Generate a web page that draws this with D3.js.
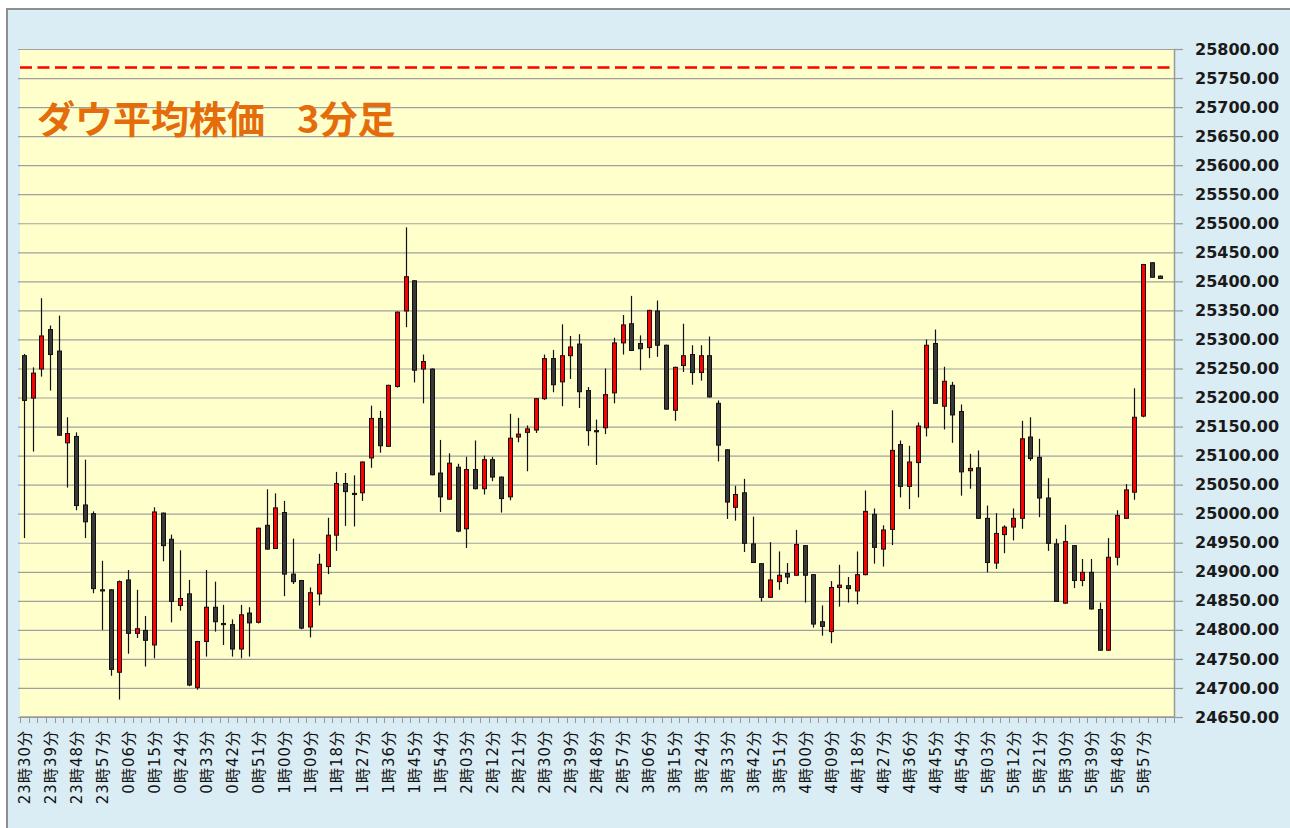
<!DOCTYPE html>
<html>
<head>
<meta charset="utf-8">
<script src="https://cdn.jsdelivr.net/npm/d3@7"></script>
<style>
  html, body { margin: 0; padding: 0; background: #fff; }
  svg { display: block; }
</style>
</head>
<body>
<svg id="chart" width="1290" height="828"></svg>
<script>
// ------------------
// Data (3-minute bars)
// ------------------
const times = [
  "23時30分","23時33分","23時36分","23時39分","23時42分","23時45分","23時48分","23時51分","23時54分","23時57分",
  "0時00分","0時03分","0時06分","0時09分","0時12分","0時15分","0時18分","0時21分","0時24分","0時27分",
  "0時30分","0時33分","0時36分","0時39分","0時42分","0時45分","0時48分","0時51分","0時54分","0時57分",
  "1時00分","1時03分","1時06分","1時09分","1時12分","1時15分","1時18分","1時21分","1時24分","1時27分",
  "1時30分","1時33分","1時36分","1時39分","1時42分","1時45分","1時48分","1時51分","1時54分","1時57分",
  "2時00分","2時03分","2時06分","2時09分","2時12分","2時15分","2時18分","2時21分","2時24分","2時27分",
  "2時30分","2時33分","2時36分","2時39分","2時42分","2時45分","2時48分","2時51分","2時54分","2時57分",
  "3時00分","3時03分","3時06分","3時09分","3時12分","3時15分","3時18分","3時21分","3時24分","3時27分",
  "3時30分","3時33分","3時36分","3時39分","3時42分","3時45分","3時48分","3時51分","3時54分","3時57分",
  "4時00分","4時03分","4時06分","4時09分","4時12分","4時15分","4時18分","4時21分","4時24分","4時27分",
  "4時30分","4時33分","4時36分","4時39分","4時42分","4時45分","4時48分","4時51分","4時54分","4時57分",
  "5時00分","5時03分","5時06分","5時09分","5時12分","5時15分","5時18分","5時21分","5時24分","5時27分",
  "5時30分","5時33分","5時36分","5時39分","5時42分","5時45分","5時48分","5時51分","5時54分","5時57分",
  "6時00分","6時03分","6時06分"
];

const open = [
  25272,25199,25249,25317,25280,25122,25133,25015,25000,24869,
  24869,24727,24886,24794,24799,24774,25001,24956,24842,24862,
  24701,24780,24839,24811,24809,24767,24829,24813,24980,24940,
  25002,24896,24885,24805,24862,24909,24963,25052,25035,25036,
  25096,25164,25116,25219,25349,25401,25249,25249,25070,25025,
  25080,24974,25076,25043,25093,25063,25029,25132,25140,25144,
  25198,25267,25227,25272,25292,25212,25143,25148,25208,25294,
  25327,25293,25286,25349,25290,25178,25255,25274,25243,25272,
  25190,25110,25011,25036,24948,24914,24856,24883,24897,24894,
  24945,24895,24814,24797,24873,24876,24867,24895,24999,24939,
  24973,25119,25047,25088,25148,25293,25185,25221,25176,25074,
  25079,24992,24915,24964,24977,24992,25132,25097,25027,24948,
  24846,24945,24885,24899,24835,24765,24925,24992,25037,25168,
  25432,25409
];
const high = [
  25275,25252,25371,25324,25341,25166,25140,25093,25004,24919,
  24870,24885,24903,24869,24824,25011,25002,24964,24937,24886,
  24781,24903,24883,24843,24818,24843,24839,24976,25042,25035,
  25022,24957,24886,24873,24931,24993,25072,25070,25066,25090,
  25186,25177,25222,25348,25493,25402,25274,25250,25127,25104,
  25086,25098,25126,25100,25098,25064,25172,25165,25152,25199,
  25274,25282,25326,25306,25309,25218,25162,25250,25303,25342,
  25375,25307,25351,25367,25291,25253,25327,25290,25290,25305,
  25195,25111,25048,25060,24995,24915,24951,24935,24915,24972,
  24946,24896,24842,24884,24912,24891,24935,25040,25009,24980,
  25178,25126,25117,25157,25300,25317,25253,25227,25188,25103,
  25109,25014,25001,24980,25009,25160,25166,25129,25061,24957,
  24981,24946,24922,24922,24847,24958,25006,25051,25216,25430,
  25433,25410
];
const low = [
  24958,25107,25236,25212,25135,25045,25006,24958,24863,24800,
  24721,24680,24759,24786,24737,24751,24918,24813,24833,24703,
  24697,24754,24797,24774,24754,24751,24754,24811,24938,24940,
  24858,24879,24801,24787,24842,24896,24936,24979,24978,25022,
  25079,25105,25115,25217,25321,25226,25190,25066,25003,25024,
  24968,24941,25042,25033,25056,25002,25023,25123,25073,25139,
  25196,25209,25185,25232,25182,25117,25084,25137,25190,25274,
  25280,25247,25268,25270,25179,25160,25244,25222,25229,25200,
  25090,24991,24988,24934,24915,24849,24855,24869,24879,24893,
  24847,24804,24790,24777,24840,24847,24844,24894,24914,24909,
  24946,25028,25008,25028,25133,25189,25145,25122,25031,25043,
  24991,24899,24905,24932,24954,24974,25091,24994,24936,24849,
  24845,24872,24875,24835,24764,24764,24911,24991,25024,25166,
  25407,25405
];
const close = [
  25195,25242,25306,25274,25135,25138,25014,24986,24871,24867,
  24732,24883,24794,24802,24782,25003,24945,24849,24854,24705,
  24780,24839,24814,24809,24767,24826,24812,24975,24939,25010,
  24896,24883,24803,24864,24913,24963,25052,25038,25033,25089,
  25164,25117,25221,25347,25408,25247,25262,25067,25029,25087,
  24970,25076,25043,25093,25063,25026,25130,25137,25146,25198,
  25267,25222,25272,25287,25210,25143,25141,25205,25294,25325,
  25281,25284,25350,25290,25180,25252,25272,25243,25272,25201,
  25118,25020,25033,24949,24916,24856,24886,24894,24891,24947,
  24894,24810,24806,24873,24877,24871,24895,25004,24942,24972,
  25109,25047,25089,25151,25290,25190,25228,25170,25072,25078,
  24992,24916,24966,24977,24992,25129,25095,25027,24949,24849,
  24952,24885,24899,24836,24765,24925,24997,25041,25166,25429,
  25407,25405
];

const yTicks = d3.range(24650, 25801, 50);
const refLevel = 25768;
const titleMain = "ダウ平均株価";
const titleSub = "3分足";

// ------------------
// Layout
// ------------------
const svg = d3.select("#chart");
const plotLeft = 20, plotRight = 1174, plotTop = 49, plotBottom = 717;

svg.append("rect")
  .attr("x", 7).attr("y", 9)
  .attr("width", 1290).attr("height", 828)
  .attr("fill", "#dbedf4")
  .attr("stroke", "#8e8e8e")
  .attr("stroke-width", 2);

svg.append("rect")
  .attr("x", plotLeft).attr("y", plotTop)
  .attr("width", plotRight - plotLeft).attr("height", plotBottom - plotTop)
  .attr("fill", "#ffffcc");

const x = d3.scaleBand().domain(times).range([plotLeft, plotRight]).padding(0);
const y = d3.scaleLinear().domain([24650, 25800]).range([plotBottom, plotTop]);

// gridlines
const grid = svg.append("g")
  .attr("transform", `translate(${plotLeft - 2},0)`)
  .call(d3.axisLeft(y).tickValues(yTicks).tickSize(-(plotRight - plotLeft + 2)).tickFormat(""));
grid.select(".domain").remove();
grid.selectAll("line").attr("stroke", "#a0a0a0").attr("stroke-width", 1.2);

// right axis
const yAxis = svg.append("g")
  .attr("transform", `translate(${plotRight},0)`)
  .call(d3.axisRight(y).tickValues(yTicks).tickFormat(d3.format(".2f"))
    .tickSize(9).tickSizeOuter(0).tickPadding(12));
yAxis.select(".domain").attr("stroke", "#999").attr("stroke-width", 1.5);
yAxis.selectAll("line").attr("stroke", "#999").attr("stroke-width", 1.2);
yAxis.selectAll("text")
  .attr("fill", "#1a1a1a")
  .style("font-family", "'DejaVu Sans', sans-serif")
  .style("font-weight", "bold")
  .style("font-size", "16px");

// x axis: ticks between categories, labels every 3 bars
const xAxis = svg.append("g");
xAxis.append("line")
  .attr("x1", plotLeft).attr("x2", plotRight)
  .attr("y1", plotBottom).attr("y2", plotBottom)
  .attr("stroke", "#999").attr("stroke-width", 1.5);
xAxis.selectAll("line.tick")
  .data(times.concat([null]))
  .join("line")
  .attr("class", "tick")
  .attr("x1", (d, i) => Math.round(plotLeft + i * x.step()) + 0.5)
  .attr("x2", (d, i) => Math.round(plotLeft + i * x.step()) + 0.5)
  .attr("y1", plotBottom).attr("y2", plotBottom + 6)
  .attr("stroke", "#999");

const labelled = times.filter((t, i) => i % 3 === 0 && i <= 129);
xAxis.selectAll("text")
  .data(labelled)
  .join("text")
  .attr("transform", d => `translate(${x(d) + x.bandwidth() / 2},730) rotate(-90)`)
  .attr("text-anchor", "end")
  .attr("dy", "0.36em")
  .attr("fill", "#111")
  .style("font-family", "'DejaVu Sans', 'Noto Sans CJK JP', sans-serif")
  .style("font-size", "15px")
  .style("letter-spacing", "1px")
  .text(d => d);

// reference line
svg.append("line")
  .attr("x1", plotLeft).attr("x2", plotRight)
  .attr("y1", y(refLevel)).attr("y2", y(refLevel))
  .attr("stroke", "#ff0000")
  .attr("stroke-width", 2.5)
  .attr("stroke-dasharray", "12,5.5");

// title
const title = svg.append("text")
  .attr("y", 133)
  .attr("fill", "#e46c0a")
  .style("font-family", "'Noto Sans CJK JP', sans-serif")
  .style("font-weight", "bold")
  .style("font-size", "38px");
title.append("tspan").attr("x", 37).text(titleMain);
title.append("tspan").attr("x", 297).text(titleSub);

// ------------------
// Candles
// ------------------
const bars = close.map((c, i) => ({ t: times[i], o: open[i], h: high[i], l: low[i], c: c }));
const cx = d => Math.floor(x(d.t) + x.bandwidth() / 2) + 0.5;

const candle = svg.append("g").selectAll("g").data(bars).join("g");

candle.append("line")
  .attr("x1", cx).attr("x2", cx)
  .attr("y1", d => y(d.h)).attr("y2", d => y(d.l))
  .attr("stroke", "#111")
  .attr("stroke-width", 1.2);

candle.append("rect")
  .attr("x", d => cx(d) - 2)
  .attr("width", 4)
  .attr("y", d => y(Math.max(d.o, d.c)))
  .attr("height", d => Math.max(1, Math.abs(y(d.o) - y(d.c))))
  .attr("fill", d => d.c > d.o ? "#ff0000" : "#383838")
  .attr("stroke", "#111")
  .attr("stroke-width", 1);
</script>
</body>
</html>
